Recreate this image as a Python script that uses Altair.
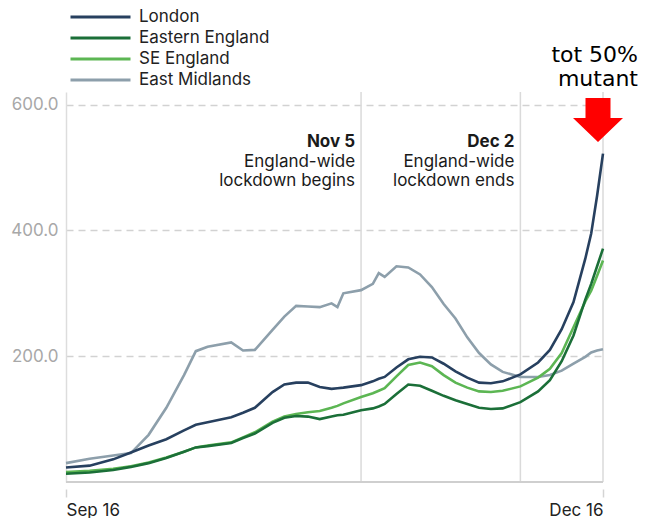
import altair as alt
import pandas as pd

# ---- data ----
start_date = "2020-09-16"
days = [0, 4, 8, 11, 14, 17, 20, 22, 24, 28, 30, 32, 35, 37, 39, 41, 43, 45, 46, 47,
        50, 52, 53, 54, 56, 58, 60, 62, 64, 66, 68, 70, 72, 74, 77, 80, 82, 84, 86,
        88, 89, 90, 91]

london = [23, 26, 36, 47, 58, 68, 82, 91, 95, 103, 110, 118, 143, 155, 158, 158, 151,
          148, 149, 150, 154, 160, 164, 167, 182, 195, 199, 198, 188, 176, 166, 158,
          157, 160, 171, 190, 210, 243, 286, 355, 395, 455, 522]
eastern = [13, 15, 19, 24, 30, 38, 48, 55, 57, 62, 70, 77, 94, 102, 105, 104, 100,
           104, 106, 107, 114, 117, 120, 124, 140, 155, 153, 145, 137, 130, 124, 118,
           116, 117, 127, 144, 162, 192, 233, 290, 315, 343, 371]
se_england = [16, 18, 21, 25, 31, 39, 48, 55, 58, 63, 71, 79, 96, 104, 108, 111, 113,
              118, 121, 125, 135, 141, 145, 149, 168, 186, 190, 184, 170, 158, 150,
              144, 143, 145, 152, 166, 180, 205, 246, 287, 304, 328, 352]
east_midlands = [30, 37, 42, 46, 75, 118, 170, 208, 215, 222, 209, 210, 242, 263, 280,
                 279, 278, 284, 278, 300, 305, 315, 332, 326, 343, 341, 330, 310, 283,
                 260, 230, 205, 187, 175, 167, 167, 170, 177, 188, 199, 206, 209, 211]

series_names = ["London", "Eastern England", "SE England", "East Midlands"]
series_colors = ["#27405f", "#1b6f38", "#5cb653", "#8d9fab"]

marker_dates = ["2020-11-05", "2020-12-02", "2020-12-16"]
event_dates = ["2020-11-05", "2020-12-02"]
event_titles = ["Nov 5", "Dec 2"]
event_lines = [["England-wide", "lockdown begins"], ["England-wide", "lockdown ends"]]
tick_dates = ["2020-09-16", "2020-12-16"]
y_ticks = [200, 400, 600]
note_date = "2020-12-16"
note_text = ["tot 50%", "mutant"]

# ---- tables ----
def ts(d):
    return d + "T00:00:00"

start = pd.Timestamp(start_date)
date_strs = [(start + pd.Timedelta(days=d)).strftime("%Y-%m-%dT00:00:00") for d in days]
series_vals = {"London": london, "Eastern England": eastern,
               "SE England": se_england, "East Midlands": east_midlands}
rows = []
for name in ["East Midlands", "SE England", "Eastern England", "London"]:
    for dt, v in zip(date_strs, series_vals[name]):
        rows.append({"date": dt, "series": name, "value": v})
df = pd.DataFrame(rows)

def dtobj(s):
    y, m, d = s.split("-")
    return alt.DateTime(year=int(y), month=int(m), date=int(d))

x_scale = alt.Scale(domain=[dtobj(tick_dates[0]), dtobj(tick_dates[1])], nice=False)
y_scale = alt.Scale(domain=[0, 620], nice=False)

FONT = "Inter"

x_axis = alt.Axis(values=[dtobj(t) for t in tick_dates], format="%b %d", title=None,
                  labelColor="#222222", labelFontSize=17, labelFont=FONT,
                  domain=False, grid=False, tickColor="#d4d4d4", tickSize=8,
                  tickWidth=1.5, offset=7, labelPadding=5)
y_axis = alt.Axis(values=y_ticks, format=".1f", title=None, labelColor="#a8a8a8",
                  labelFontSize=17, labelFont=FONT, ticks=False, domainColor="#dddddd",
                  domainWidth=1.5, gridColor="#d2d2d2", gridDash=[7, 5], gridWidth=1.3,
                  labelPadding=8)

vrules = alt.Chart(pd.DataFrame({"date": [ts(d) for d in marker_dates]})).mark_rule(
    color="#dadada", strokeWidth=1.5
).encode(x=alt.X("date:T", scale=x_scale, axis=x_axis))

baseline = alt.Chart(pd.DataFrame({"v": [0]})).mark_rule(
    color="#cfcfcf", strokeWidth=2
).encode(y=alt.Y("v:Q", scale=y_scale, axis=y_axis))

lines = alt.Chart(df).mark_line(strokeWidth=2.6).encode(
    x=alt.X("date:T", scale=x_scale, axis=x_axis),
    y=alt.Y("value:Q", scale=y_scale, axis=y_axis),
    color=alt.Color("series:N",
                    scale=alt.Scale(domain=series_names, range=series_colors),
                    sort=series_names,
                    legend=alt.Legend(orient="none", legendX=1, legendY=-83.5, title=None,
                                      symbolType="M-1,0H11", symbolSize=100,
                                      symbolStrokeWidth=3, labelFont=FONT,
                                      labelFontSize=17, labelColor="#222222",
                                      labelOffset=55, rowPadding=3)),
)

events_df = pd.DataFrame({"date": [ts(d) for d in event_dates],
                          "title": event_titles, "lines": event_lines})
ev_titles = alt.Chart(events_df).mark_text(
    align="right", baseline="alphabetic", dx=-6, font=FONT, fontSize=17,
    fontWeight="bold", color="#1a1a1a"
).encode(x=alt.X("date:T", scale=x_scale), y=alt.value(55), text="title:N")
ev_lines = alt.Chart(events_df).mark_text(
    align="right", baseline="alphabetic", dx=-6, font=FONT, fontSize=17,
    lineHeight=19, color="#1a1a1a"
).encode(x=alt.X("date:T", scale=x_scale), y=alt.value(75), text="lines")

note_df = pd.DataFrame({"date": [ts(note_date)], "txt": [note_text]})
note = alt.Chart(note_df).mark_text(
    align="right", baseline="alphabetic", dx=35, font="DejaVu Sans", fontSize=22,
    lineHeight=23.5, color="#000000"
).encode(x=alt.X("date:T", scale=x_scale), y=alt.value(-30), text="txt")

arrow = alt.Chart(note_df).mark_point(
    shape="M-0.5,-0.88H0.5V-0.08H1L0,0.88L-1,-0.08H-0.5Z", size=2500, filled=True,
    fill="#ff0000", opacity=1, strokeWidth=0, xOffset=-5
).encode(x=alt.X("date:T", scale=x_scale), y=alt.value(28))

chart = alt.layer(vrules, baseline, lines, ev_titles, ev_lines, note, arrow).properties(
    width=537, height=390,
    autosize=alt.AutoSizeParams(type="none"),
    padding={"left": 58, "top": 84, "right": 36, "bottom": 36},
).configure_view(stroke=None)

chart.save("out.html", embed_options={"renderer": "svg", "actions": False})
